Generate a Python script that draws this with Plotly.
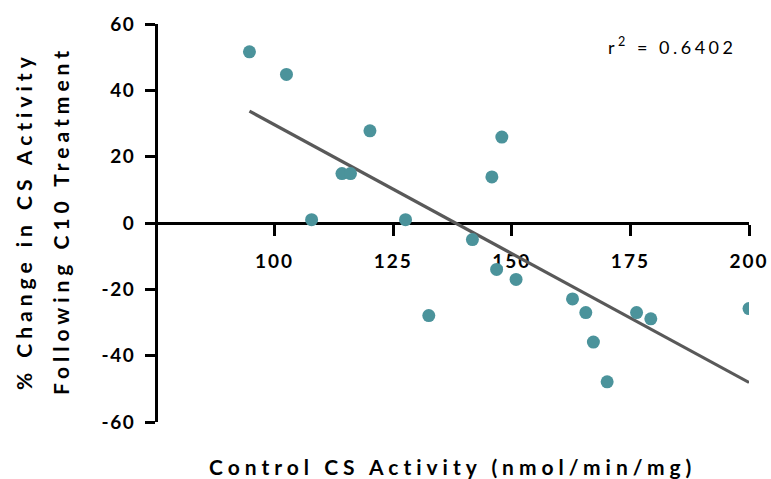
import numpy as np
import plotly.graph_objects as go

# Control CS activity (nmol/min/mg) and % change after C10 treatment
control_cs = [94.7, 102.5, 107.8, 114.2, 116.0, 120.1, 127.6, 132.5, 141.7, 145.8,
              147.9, 146.8, 150.9, 162.8, 165.6, 167.2, 170.1, 176.3, 179.3, 200.0]
pct_change = [51.6, 44.8, 1.0, 14.9, 14.9, 27.8, 1.0, -27.9, -5.0, 13.9,
              25.9, -14.0, -17.0, -22.9, -27.0, -35.9, -47.9, -27.0, -28.9, -25.8]

x_ticks = [100, 125, 150, 175, 200]
y_ticks = [-60, -40, -20, 0, 20, 40, 60]
r_squared_label = "0.6402"

FONT = "Lato"
TEAL = "#4b939b"


def spaced(text, px=3):
    return f'<span style="letter-spacing:{px}px">{text}</span>'


# least-squares line through the data
slope, intercept = np.polyfit(control_cs, pct_change, 1)
fit_x = [min(control_cs), max(control_cs)]
fit_y = [slope * v + intercept for v in fit_x]

fig = go.Figure()
fig.add_trace(go.Scatter(x=fit_x, y=fit_y, mode="lines",
                         line=dict(color="#595959", width=3.2),
                         hoverinfo="skip", showlegend=False))
fig.add_trace(go.Scatter(x=control_cs, y=pct_change, mode="markers",
                         marker=dict(color=TEAL, size=13, line=dict(width=0)),
                         showlegend=False))

tick_font = dict(family=FONT, size=19, weight="bold")
fig.update_layout(
    width=771, height=479,
    margin=dict(l=156, r=22, t=24, b=57),
    paper_bgcolor="white", plot_bgcolor="white",
    font=dict(family=FONT, color="black"),
    xaxis=dict(range=[75, 200], anchor="free", position=0.5, automargin=False,
               showgrid=False, zeroline=False,
               showline=True, linecolor="black", linewidth=3,
               ticks="outside", ticklen=11, tickwidth=3, tickcolor="black",
               tickvals=x_ticks, ticktext=[spaced(str(v), 2) for v in x_ticks],
               tickfont=tick_font, ticklabelstandoff=9, layer="below traces"),
    yaxis=dict(range=[-60, 60], anchor="free", position=0, automargin=False,
               showgrid=False, zeroline=False,
               showline=True, linecolor="black", linewidth=3,
               ticks="outside", ticklen=10, tickwidth=3, tickcolor="black",
               tickvals=y_ticks, ticktext=[spaced(str(v), 1.5) for v in y_ticks],
               tickfont=tick_font, ticklabelstandoff=6, layer="below traces"),
)

title_font = dict(family=FONT, size=21, color="black", weight="bold")
fig.add_annotation(text=spaced("% Change in CS Activity", 5), xref="paper", yref="paper",
                   x=0, y=0.5, xshift=-133, yshift=2, textangle=-90,
                   showarrow=False, font=title_font, xanchor="center", yanchor="middle")
fig.add_annotation(text=spaced("Following C10 Treatment", 5), xref="paper", yref="paper",
                   x=0, y=0.5, xshift=-96, yshift=2, textangle=-90,
                   showarrow=False, font=title_font, xanchor="center", yanchor="middle")
fig.add_annotation(text=spaced("Control CS Activity (nmol/min/mg)", 5), xref="paper", yref="paper",
                   x=0.5, y=0, yshift=-44, showarrow=False, font=title_font,
                   xanchor="center", yanchor="middle")
fig.add_annotation(text=spaced(f"r<sup>2</sup> = {r_squared_label}", 3.5), xref="paper", yref="paper",
                   x=0.87, y=0.945, showarrow=False,
                   font=dict(family=FONT, size=18, color="black"),
                   xanchor="center", yanchor="middle")

fig.write_html("out.html")
